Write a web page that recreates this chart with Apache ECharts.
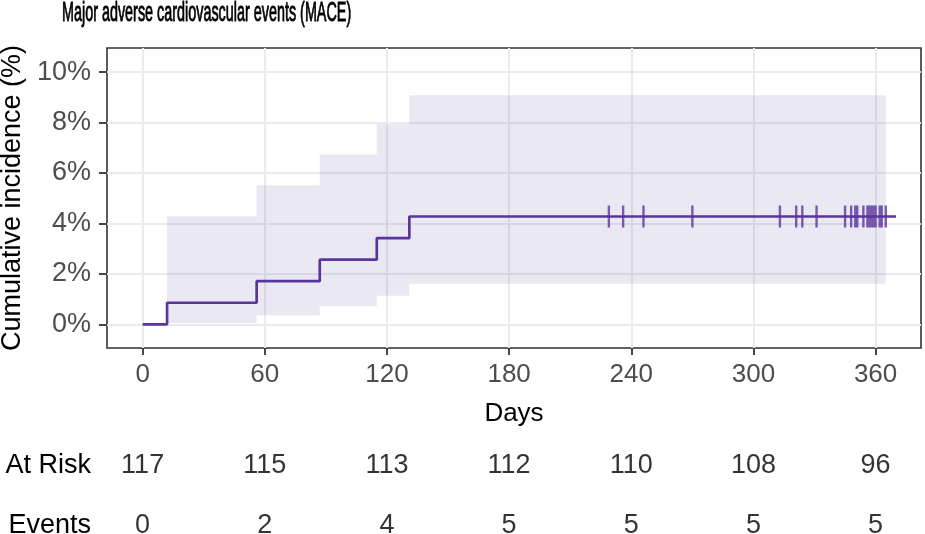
<!DOCTYPE html>
<html><head><meta charset="utf-8">
<script src="https://cdn.jsdelivr.net/npm/echarts@6/dist/echarts.min.js"></script>
<style>html,body{margin:0;padding:0;background:#fff}#c{width:925px;height:534px}</style>
</head><body><div id="c"></div>
<script>
// ---- data ----
const titleText = 'Major adverse cardiovascular events (MACE)';
const stepDays = [0, 12, 56, 87, 115, 131, 370];
const cumInc = [0, 0.855, 1.709, 2.564, 3.419, 4.274, 4.274];
const bandStart = [12, 56, 87, 115, 131];
const bandEnd = [56, 87, 115, 131, 365];
const bandLower = [0.05, 0.35, 0.72, 1.13, 1.61];
const bandUpper = [4.28, 5.51, 6.73, 7.93, 9.08];
const censorDays = [229, 236, 246, 270, 313, 321, 324, 331, 345, 348, 350, 351, 354, 356, 357, 358, 359, 360, 362, 363, 365];
const censorLevel = 4.274;
const xTicks = [0, 60, 120, 180, 240, 300, 360];
const yTicks = [0, 2, 4, 6, 8, 10];
const atRisk = [117, 115, 113, 112, 110, 108, 96];
const events = [0, 2, 4, 5, 5, 5, 5];
const rowNames = ['Events', 'At Risk'];

// ---- chart ----
const FONT = "'Liberation Sans', Arial, sans-serif";
const LINE = '#5B359B';
const chart = echarts.init(document.getElementById('c'), null, {renderer: 'canvas'});

const stepData = stepDays.map((d, i) => [d, cumInc[i]]);
const bandData = bandStart.map((s, i) => [s, bandEnd[i], bandLower[i], bandUpper[i]]);
const censorData = censorDays.map(d => [d, censorLevel]);
const tableData = [];
xTicks.forEach((t, i) => {
  tableData.push([t, rowNames[1], atRisk[i]]);
  tableData.push([t, rowNames[0], events[i]]);
});

const X_MIN = -17.5, X_MAX = 382.3;

chart.setOption({
  animation: false,
  backgroundColor: '#fff',
  textStyle: {fontFamily: FONT},
  graphic: {elements: [{
    type: 'text', x: 62, y: 0, scaleX: 0.575, scaleY: 1.1,
    style: {text: titleText, fontSize: 25, fontFamily: FONT, fill: '#000', stroke: '#000', lineWidth: 0.8,
      verticalAlign: 'top', align: 'left'}
  }]},
  grid: [
    {left: 107, right: 4, top: 48, bottom: 186, show: true, borderColor: '#333', borderWidth: 1.6,
      containLabel: false, outerBoundsMode: 'none'},
    {left: 107, right: 4, top: 466, bottom: 8, show: false, containLabel: false, outerBoundsMode: 'none'}
  ],
  xAxis: [{
    type: 'value', gridIndex: 0, min: X_MIN, max: X_MAX,
    axisLine: {show: false, onZero: false},
    axisTick: {show: true, customValues: xTicks, length: 7, lineStyle: {color: '#333', width: 1.8}},
    axisLabel: {customValues: xTicks, fontSize: 26, color: '#4d4d4d', margin: 14, fontFamily: FONT},
    splitLine: {show: true, lineStyle: {color: '#ebebeb', width: 2}},
    name: 'Days', nameLocation: 'middle', nameGap: 53,
    nameTextStyle: {fontSize: 26, color: '#000', fontFamily: FONT}
  }, {
    type: 'value', gridIndex: 1, min: X_MIN, max: X_MAX, show: false
  }],
  yAxis: [{
    type: 'value', gridIndex: 0, min: -0.94, max: 10.955,
    axisLine: {show: false, onZero: false},
    axisTick: {show: true, customValues: yTicks, length: 8, lineStyle: {color: '#333', width: 1.8}},
    axisLabel: {customValues: yTicks, fontSize: 27, color: '#4d4d4d', margin: 16, fontFamily: FONT,
      formatter: v => v + '%'},
    splitLine: {show: true, lineStyle: {color: '#ebebeb', width: 2}},
    name: 'Cumulative incidence (%)', nameLocation: 'middle', nameGap: 79, nameRotate: 90,
    nameTextStyle: {fontSize: 27, color: '#000', fontFamily: FONT}
  }, {
    type: 'category', gridIndex: 1, data: rowNames, boundaryGap: false,
    axisLine: {show: false, onZero: false}, axisTick: {show: false}, splitLine: {show: false},
    axisLabel: {fontSize: 27, color: '#000', margin: 16, fontFamily: FONT}
  }],
  series: [{
    type: 'custom', xAxisIndex: 0, yAxisIndex: 0, z: 2,
    data: bandData,
    encode: {x: [0, 1], y: [2, 3]},
    renderItem: (params, api) => {
      const p0 = api.coord([api.value(0), api.value(3)]);
      const p1 = api.coord([api.value(1), api.value(2)]);
      return {type: 'rect', shape: {x: p0[0], y: p0[1], width: p1[0] - p0[0], height: p1[1] - p0[1]},
        style: {fill: 'rgba(85,70,160,0.12)'}};
    },
    silent: true
  }, {
    type: 'line', xAxisIndex: 0, yAxisIndex: 0, z: 3,
    data: stepData, step: 'end', showSymbol: false, symbol: 'none',
    lineStyle: {color: LINE, width: 2.7}
  }, {
    type: 'scatter', xAxisIndex: 0, yAxisIndex: 0, z: 4,
    data: censorData, symbol: 'rect', symbolSize: [2.4, 22],
    itemStyle: {color: LINE}
  }, {
    type: 'scatter', xAxisIndex: 1, yAxisIndex: 1,
    data: tableData, symbolSize: 1, itemStyle: {color: 'rgba(0,0,0,0)'},
    label: {show: true, position: 'inside', formatter: p => String(p.value[2]),
      fontSize: 27, color: '#000', fontFamily: FONT}
  }]
});
</script>
</body></html>
